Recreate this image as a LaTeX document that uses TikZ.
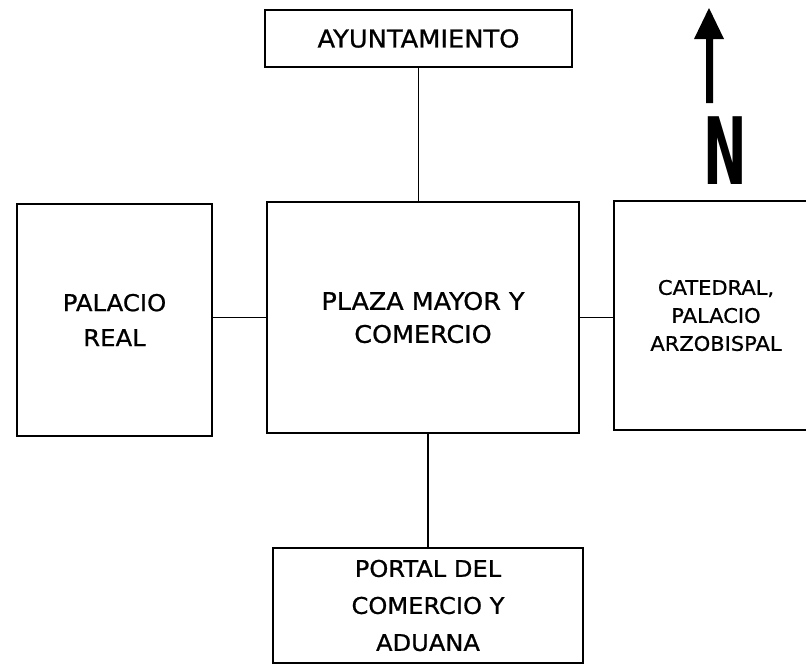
\documentclass[tikz,border=0pt]{standalone}
\usepackage{fontspec}
\setmainfont[FakeStretch=1.05,FakeBold=0.8]{DejaVu Sans}
\newfontfamily\nfont{DejaVu Sans}
\tikzset{
  box/.style={draw, line width=1.5pt, inner sep=0pt, align=center},
  conn/.style={line width=1.5pt}
}
\begin{document}
\begin{tikzpicture}[x=1pt,y=-1pt]
\useasboundingbox (0,0) rectangle (806,664);
\clip (0,0) rectangle (806,664);
\node[box, minimum width=307pt, minimum height=57pt, font=\fontsize{24.5}{26}\selectfont] (ayto) at (418.5,38.5) {AYUNTAMIENTO};
\node[box, minimum width=195pt, minimum height=232pt, font=\fontsize{23.2}{35}\selectfont] (palacio) at (114.5,320) {PALACIO\\REAL};
\node[box, minimum width=312pt, minimum height=231pt, font=\fontsize{24.2}{33}\selectfont] (plaza) at (423,317.5) {PLAZA MAYOR Y\\COMERCIO};
\node[box, minimum width=204pt, minimum height=229pt, font=\fontsize{20}{28}\selectfont] (catedral) at (716,315.5) {CATEDRAL,\\PALACIO\\ARZOBISPAL};
\node[box, minimum width=310pt, minimum height=115pt, font=\fontsize{23}{37}\selectfont] (portal) at (428,605.5) {PORTAL DEL\\COMERCIO Y\\ADUANA};
\draw[conn] (ayto.south) -- (ayto.south |- plaza.north);
\draw[conn] (plaza.west) -- (plaza.west -| palacio.east);
\draw[conn] (plaza.east) -- (plaza.east -| catedral.west);
\draw[conn] (portal.north) -- (portal.north |- plaza.south);
\fill (709,8) -- (724,39) -- (713,39) -- (713,103) -- (706,103) -- (706,39) -- (694,39) -- cycle;
\node[inner sep=0pt, font=\nfont\bfseries\fontsize{93}{93}\selectfont] (north) at (725,151) {\scalebox{0.56}[1]{N}};
\end{tikzpicture}
\end{document}
